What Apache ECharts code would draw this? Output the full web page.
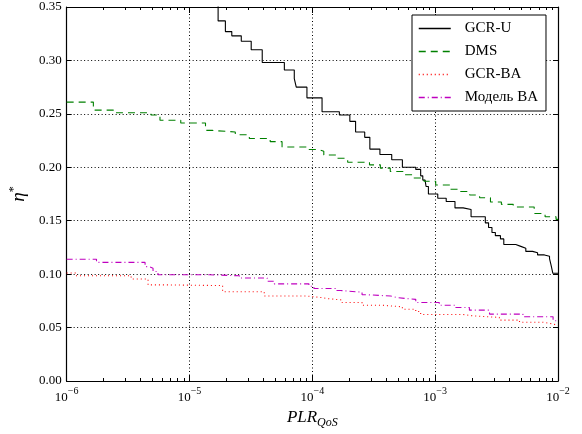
<!DOCTYPE html>
<html>
<head>
<meta charset="utf-8">
<script src="https://cdn.jsdelivr.net/npm/echarts@6/dist/echarts.min.js"></script>
<style>
html, body { margin: 0; padding: 0; background: #fff; }
#chart { width: 582px; height: 434px; }
</style>
</head>
<body>
<div id="chart"></div>
<script>
// ---------------- data ----------------
var seriesNames = ['GCR-U', 'DMS', 'GCR-BA', 'Модель BA'];
var seriesColors = ['#000000', '#008000', '#ff0000', '#bf00bf'];

var gcrUX = [1.71e-5, 1.71e-5, 1.96e-5, 2.21e-5, 2.64e-5, 3.18e-5, 3.91e-5, 5.92e-5, 7.13e-5, 7.40e-5, 9.04e-5,
    1.20e-4, 1.66e-4, 2.02e-4, 2.25e-4, 2.67e-4, 2.94e-4, 3.55e-4, 4.43e-4, 5.41e-4, 6.95e-4, 7.62e-4,
    7.93e-4, 8.28e-4, 8.43e-4, 8.81e-4, 1.05e-3, 1.23e-3, 1.45e-3, 1.69e-3, 1.96e-3, 2.56e-3, 2.72e-3,
    2.90e-3, 3.09e-3, 3.40e-3, 3.62e-3, 4.53e-3, 4.98e-3, 5.47e-3, 6.21e-3, 6.82e-3, 7.75e-3, 8.53e-3,
    8.80e-3, 9.08e-3, 1e-2];
var gcrUY = [0.36, 0.337, 0.327, 0.323, 0.318, 0.310, 0.298, 0.291, 0.283, 0.275, 0.265,
    0.252, 0.249, 0.243, 0.233, 0.228, 0.217, 0.212, 0.207, 0.200, 0.198, 0.192,
    0.188, 0.1865, 0.182, 0.175, 0.171, 0.168, 0.162, 0.1605, 0.1537, 0.148, 0.1436,
    0.139, 0.136, 0.133, 0.1277, 0.126, 0.1243, 0.1213, 0.120, 0.118, 0.1167, 0.1145,
    0.108, 0.1008, 0.1008];

var dmsX = [1e-6, 1.65e-6, 2.40e-6, 4.86e-6, 5.75e-6, 8.49e-6, 1.35e-5, 1.54e-5, 2.36e-5, 3.07e-5, 4.54e-5,
    5.67e-5, 9.38e-5, 1.11e-4, 1.24e-4, 1.58e-4, 1.94e-4, 2.92e-4, 3.58e-4, 4.31e-4, 5.59e-4, 6.73e-4,
    8.11e-4, 1.01e-3, 1.32e-3, 1.56e-3, 1.91e-3, 2.30e-3, 2.82e-3, 3.46e-3, 4.32e-3, 6.40e-3, 7.85e-3,
    9.64e-3, 1e-2];
var dmsY = [0.261, 0.2535, 0.251, 0.249, 0.244, 0.2415, 0.2345, 0.233, 0.2305, 0.227, 0.224,
    0.219, 0.2167, 0.215, 0.2115, 0.2084, 0.2047, 0.2023, 0.1992, 0.196, 0.193, 0.190,
    0.187, 0.1834, 0.1794, 0.1773, 0.174, 0.1715, 0.1675, 0.1653, 0.1629, 0.1568, 0.1537,
    0.1513, 0.1513];

var gcrBaX = [1e-6, 1.18e-6, 3.35e-6, 4.60e-6, 5.75e-6, 1.86e-5, 4.06e-5, 9.04e-5, 1.20e-4, 1.36e-4, 1.75e-4,
    2.54e-4, 3.71e-4, 5.41e-4, 6.95e-4, 7.62e-4, 1.67e-3, 2.02e-3, 3.33e-3, 4.86e-3, 7.53e-3, 9.12e-3, 1e-2];
var gcrBaY = [0.101, 0.0985, 0.0955, 0.090, 0.0893, 0.0835, 0.0795, 0.078, 0.077, 0.0758, 0.0734,
    0.0709, 0.0694, 0.0672, 0.065, 0.0623, 0.061, 0.0595, 0.057, 0.055, 0.0534, 0.0518, 0.0518];

var modelBaX = [1e-6, 1.75e-6, 4.35e-6, 4.69e-6, 5.05e-6, 5.54e-6, 1.46e-5, 2.55e-5, 4.29e-5, 4.89e-5, 9.38e-5,
    1.03e-4, 1.54e-4, 1.69e-4, 2.54e-4, 2.80e-4, 4.34e-4, 4.92e-4, 6.95e-4, 1.08e-3, 1.47e-3, 1.90e-3,
    2.77e-3, 5.18e-3, 9.12e-3, 1e-2];
var modelBaY = [0.114, 0.111, 0.107, 0.1056, 0.1025, 0.0994, 0.0985, 0.0964, 0.0933, 0.0909, 0.0887,
    0.0866, 0.0847, 0.0831, 0.0807, 0.0795, 0.078, 0.0764, 0.0734, 0.0709, 0.0688, 0.0663,
    0.0626, 0.0601, 0.0564, 0.0564];

var yTicks = [0, 0.05, 0.10, 0.15, 0.20, 0.25, 0.30, 0.35];
var xDecades = [1e-6, 1e-5, 1e-4, 1e-3, 1e-2];

// ---------------- chart ----------------
var chartDom = document.getElementById('chart');
var myChart = echarts.init(chartDom, null, { renderer: 'canvas' });

var serif = 'Liberation Serif';
var gridDots = { color: '#000', type: [1, 2.5], width: 1 };
var lineTypes = ['solid', [7, 5], [1, 3], [6, 3, 1, 3]];

function pairs(xs, ys) {
    return xs.map(function (x, i) { return [x, ys[i]]; });
}

function supLabel(value) {
    var p = Math.round(Math.log10(value));
    return '{b|10}{s|' + (p < 0 ? '\u2212' + (-p) : p) + '}';
}

var xBase = {
    type: 'log',
    logBase: 10,
    min: xDecades[0],
    max: xDecades[xDecades.length - 1],
    axisLine: { onZero: false, lineStyle: { color: '#000', width: 1.2 } },
    axisTick: { inside: true, length: 6, lineStyle: { color: '#000' } },
    minorTick: { show: true, splitNumber: 9, length: 3, lineStyle: { color: '#000' } },
    splitLine: { show: false },
    axisLabel: { show: false }
};

var yBase = {
    type: 'value',
    min: yTicks[0],
    max: yTicks[yTicks.length - 1],
    interval: 0.05,
    axisLine: { show: true, onZero: false, lineStyle: { color: '#000', width: 1.2 } },
    axisTick: { show: true, inside: true, length: 5, lineStyle: { color: '#000' } },
    splitLine: { show: false }
};

var allX = [gcrUX, dmsX, gcrBaX, modelBaX];
var allY = [gcrUY, dmsY, gcrBaY, modelBaY];

var option = {
    backgroundColor: '#fff',
    animation: false,
    grid: { left: 63, right: 24, top: 7, bottom: 46, containLabel: false },
    legend: {
        orient: 'vertical',
        left: 412,
        top: 15,
        padding: [6, 8, 6, 6],
        itemWidth: 32,
        itemHeight: 14,
        itemGap: 8,
        backgroundColor: '#fff',
        borderColor: '#000',
        borderWidth: 1,
        borderRadius: 0,
        itemStyle: { opacity: 0 },
        data: seriesNames.map(function (n, i) {
            return { name: n, lineStyle: { color: seriesColors[i], type: lineTypes[i], width: 1.5 } };
        }),
        textStyle: { fontFamily: serif, fontSize: 15, color: '#000', padding: [0, 0, 0, 9] }
    },
    xAxis: [
        Object.assign({}, xBase, {
            position: 'bottom',
            splitLine: { show: true, lineStyle: gridDots },
            name: '{i|PLR}{sub|QoS}',
            nameLocation: 'middle',
            nameGap: 26,
            nameTextStyle: {
                rich: {
                    i: { fontFamily: serif, fontStyle: 'italic', fontSize: 17, color: '#000' },
                    sub: { fontFamily: serif, fontStyle: 'italic', fontSize: 12, color: '#000', padding: [10, 0, 0, 0] }
                }
            },
            axisLabel: {
                show: true,
                margin: 4,
                formatter: supLabel,
                rich: {
                    b: { fontFamily: serif, fontSize: 13, color: '#000', padding: [6, 0, 0, 0] },
                    s: { fontFamily: serif, fontSize: 10, color: '#000', padding: [0, 0, 6, 0] }
                }
            }
        }),
        Object.assign({}, xBase, { position: 'top' })
    ],
    yAxis: [
        Object.assign({}, yBase, {
            position: 'left',
            splitLine: { show: true, lineStyle: gridDots },
            name: '{e|η}{s|*}',
            nameLocation: 'middle',
            nameGap: 27,
            nameRotate: 90,
            nameTextStyle: {
                rich: {
                    e: { fontFamily: serif, fontStyle: 'italic', fontSize: 19, color: '#000' },
                    s: { fontFamily: serif, fontSize: 12, color: '#000', padding: [0, 0, 9, 0] }
                }
            },
            axisLabel: {
                margin: 5,
                fontFamily: serif,
                fontSize: 13,
                color: '#000',
                formatter: function (v) { return v.toFixed(2); }
            }
        }),
        Object.assign({}, yBase, {
            position: 'right',
            axisLabel: { show: false }
        })
    ],
    series: seriesNames.map(function (n, i) {
        return {
            name: n,
            type: 'line',
            step: 'end',
            symbol: 'none',
            data: pairs(allX[i], allY[i]),
            lineStyle: { color: seriesColors[i], width: 1.1, type: lineTypes[i] },
            itemStyle: { color: seriesColors[i] }
        };
    })
};

myChart.setOption(option);
</script>
</body>
</html>
